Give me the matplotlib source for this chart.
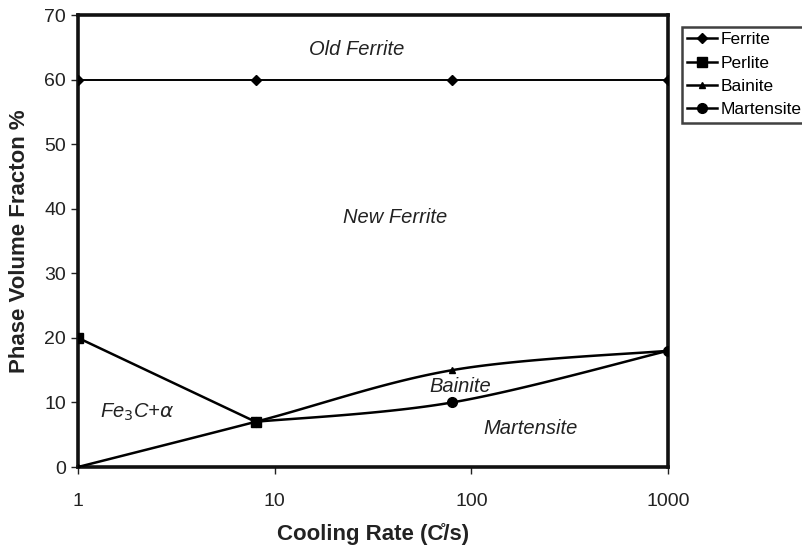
import numpy as np
import matplotlib.pyplot as plt
from matplotlib.lines import Line2D
from matplotlib.ticker import FixedLocator, FixedFormatter, NullLocator

plt.rcParams['font.family'] = ['Liberation Sans', 'DejaVu Sans']

# phase fractions (%) against cooling rate (C/s)
rates = [1, 8, 80, 1000]
ferrite = [60, 60, 60, 60]
perlite_rates = [1, 8]
perlite = [20, 7]
bainite_rates = [1, 8, 80, 1000]
bainite = [0, 7, 15, 18]
martensite_rates = [8, 80, 1000]
martensite = [7, 10, 18]

x_ticks = [1, 10, 100, 1000]
x_tick_labels = ['1', '10', '100', '1000']
y_ticks = [0, 10, 20, 30, 40, 50, 60, 70]

regions = ['Old Ferrite', 'New Ferrite', 'Fe$_3$C+$\\alpha$', 'Bainite', 'Martensite']
region_x = [26, 41, 2.0, 88, 200]
region_y = [64.7, 38.6, 8.4, 12.4, 6.0]


def smooth(xs, ys, n=40):
    # bezier through the points (catmull-rom tangents), x in log space
    p = np.column_stack([np.log10(xs), np.asarray(ys, float)])
    p = np.vstack([p[0], p, p[-1]])
    t = np.linspace(0, 1, n)[:, None]
    segs = []
    for i in range(1, len(p) - 2):
        p0, p1, p2, p3 = p[i - 1], p[i], p[i + 1], p[i + 2]
        c1 = p1 + (p2 - p0) / 6.0
        c2 = p2 - (p3 - p1) / 6.0
        segs.append((1 - t) ** 3 * p1 + 3 * (1 - t) ** 2 * t * c1
                    + 3 * (1 - t) * t ** 2 * c2 + t ** 3 * p2)
    s = np.vstack(segs)
    return 10 ** s[:, 0], s[:, 1]


fig = plt.figure(figsize=(8.02, 5.46), dpi=100)
ax = fig.add_axes([78 / 802, 1 - 467 / 546, 590 / 802, 452 / 546])
ax.set_xscale('log')

k = 'black'
ax.plot(rates, ferrite, color=k, lw=1.4, zorder=3)
ax.plot(rates, ferrite, ls='none', marker='D', ms=5, color=k, zorder=4)

bx, by = smooth(bainite_rates, bainite)
ax.plot(bx, by, color=k, lw=1.8, zorder=3)
ax.plot(bainite_rates, bainite, ls='none', marker='^', ms=5, color=k, zorder=4)

mx, my = smooth(martensite_rates, martensite)
ax.plot(mx, my, color=k, lw=1.8, zorder=3)
ax.plot(martensite_rates, martensite, ls='none', marker='o', ms=7, color=k, zorder=4)

ax.plot(perlite_rates, perlite, color=k, lw=1.8, zorder=3)
ax.plot(perlite_rates, perlite, ls='none', marker='s', ms=6.5, color=k, zorder=5)

for txt, tx, ty in zip(regions, region_x, region_y):
    ax.text(tx, ty, txt, fontsize=14.5, style='italic', color='#222222',
            ha='center', va='center')

ax.set_xlim(1, 1000)
ax.set_ylim(0, 70)
ax.xaxis.set_major_locator(FixedLocator(x_ticks))
ax.xaxis.set_major_formatter(FixedFormatter(x_tick_labels))
ax.xaxis.set_minor_locator(NullLocator())
ax.set_yticks(y_ticks)
ax.tick_params(axis='both', direction='out', length=5, width=1, labelsize=14,
               colors='#222222')
ax.tick_params(axis='x', pad=14)
for sp in ax.spines.values():
    sp.set_linewidth(2.6)
    sp.set_color('#111111')

ax.set_xlabel('Cooling Rate (C\u030a/s)', fontsize=16, fontweight='bold',
              labelpad=9, color='#222222')
ax.set_ylabel('Phase Volume Fracton %', fontsize=16, fontweight='bold',
              labelpad=10, color='#222222')

handles = [
    Line2D([], [], color=k, lw=1.8, marker='D', ms=5),
    Line2D([], [], color=k, lw=1.8, marker='s', ms=6.5),
    Line2D([], [], color=k, lw=1.8, marker='^', ms=5),
    Line2D([], [], color=k, lw=1.8, marker='o', ms=7),
]
leg = fig.legend(handles, ['Ferrite', 'Perlite', 'Bainite', 'Martensite'],
                 loc='upper left', bbox_to_anchor=(682 / 802, 1 - 27 / 546),
                 fontsize=12.5, frameon=True, fancybox=False, edgecolor='#111111',
                 handlelength=1.7, handletextpad=0.25, borderpad=0.3,
                 labelspacing=0.47, borderaxespad=0, numpoints=1)
leg.get_frame().set_linewidth(1.8)

fig.savefig('out.png', dpi=100)
